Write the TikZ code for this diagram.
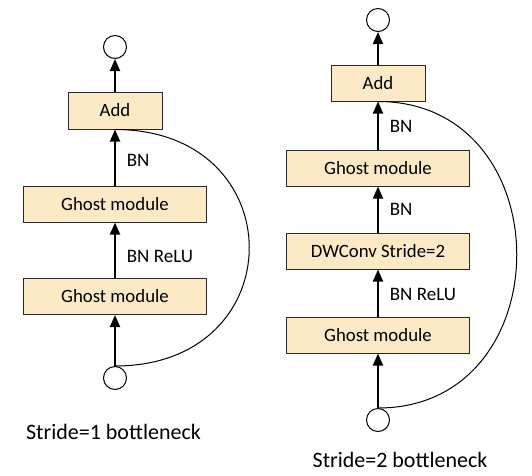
\documentclass[tikz,border=0pt]{standalone}
\usepackage{fontspec}
\setmainfont{Carlito}
\usetikzlibrary{arrows.meta}
\definecolor{boxfill}{RGB}{252,234,198}
\definecolor{boxline}{RGB}{40,40,40}
\tikzset{
  blk/.style={draw=boxline, line width=1pt, fill=boxfill, inner sep=0pt, minimum height=36pt, font=\fontsize{18.8}{22}\selectfont},
  port/.style={circle, draw, line width=1pt, minimum size=23pt, inner sep=0pt},
  flow/.style={line width=1.8pt, -{Triangle[width=10pt,length=12pt]}},
  skip/.style={line width=1pt},
  lbl/.style={anchor=west, inner sep=0pt, font=\fontsize{19}{22}\selectfont},
  captxt/.style={inner sep=0pt, font=\fontsize{22}{26}\selectfont}
}
\begin{document}
\begin{tikzpicture}[x=1pt,y=-1pt]
\useasboundingbox (0,0) rectangle (532,475);
% left: stride 1
\node[port] (lout) at (115,47) {};
\node[blk, minimum width=94pt, minimum height=37pt] (ladd) at (115,110.5) {Add};
\node[blk, minimum width=183pt] (lg1) at (115,204) {Ghost module};
\node[blk, minimum width=183pt] (lg2) at (115,296.5) {Ghost module};
\node[port] (lin) at (115,378) {};
\draw[flow] (lin) -- (lg2);
\draw[flow] (lg2) -- node[lbl, xshift=11pt, yshift=-6pt] (lbl1) {BN ReLU} (lg1);
\draw[flow] (lg1) -- node[lbl, xshift=11pt, yshift=-3pt] (lbl2) {BN} (ladd);
\draw[flow] (ladd) -- (lout);
\draw[skip] (lin.north) .. controls +(179,0) and +(179,0) .. (ladd.south);
\node[captxt] (lcap) at (113.5,432) {Stride=1 bottleneck};
% right: stride 2
\node[port] (rout) at (378,20) {};
\node[blk, minimum width=94pt] (radd) at (378,83) {Add};
\node[blk, minimum width=183pt] (rg1) at (378,168) {Ghost module};
\node[blk, minimum width=183pt] (rdw) at (378,251) {DWConv Stride=2};
\node[blk, minimum width=183pt] (rg2) at (378,335) {Ghost module};
\node[port] (rin) at (378,420) {};
\draw[flow] (rin) -- (rg2);
\draw[flow] (rg2) -- node[lbl, xshift=11pt, yshift=-1pt] (rlbl1) {BN ReLU} (rdw);
\draw[flow] (rdw) -- node[lbl, xshift=11pt, yshift=0pt] (rlbl2) {BN} (rg1);
\draw[flow] (rg1) -- node[lbl, xshift=11pt, yshift=-1pt] (rlbl3) {BN} (radd);
\draw[flow] (radd) -- (rout);
\draw[skip] (rin.north) .. controls +(185,0) and +(185,0) .. (radd.south);
\node[captxt] (rcap) at (400,460) {Stride=2 bottleneck};
\end{tikzpicture}
\end{document}
